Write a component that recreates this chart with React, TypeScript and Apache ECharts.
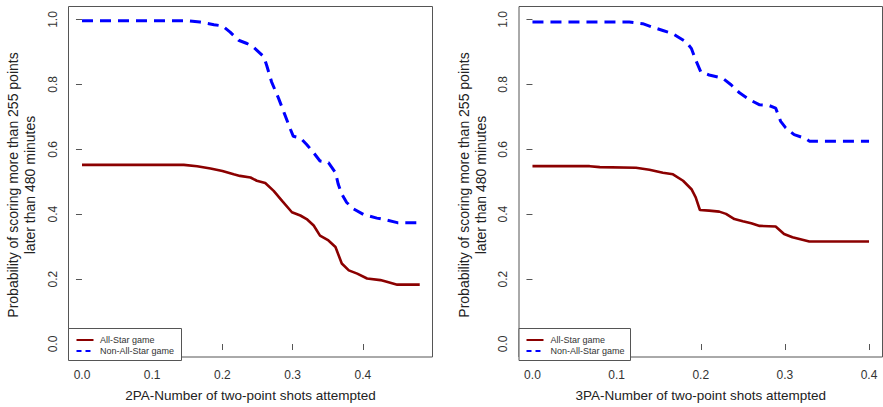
import React, { useEffect, useRef } from "react";
import * as echarts from "echarts";

// ---- Data ----
const seriesNames = ["All-Star game", "Non-All-Star game"];
const xTitles = [
  "2PA-Number of two-point shots attempted",
  "3PA-Number of two-point shots attempted",
];
const yTitle = "Probability of scoring more than 255 points\nlater than 480 minutes";
const xTicksLeft = [0, 0.1, 0.2, 0.3, 0.4];
const xTicksRight = [0, 0.1, 0.2, 0.3, 0.4];
const yTicks = [0, 0.2, 0.4, 0.6, 0.8, 1.0];

// Left panel (2PA) - All-Star game
const leftAllStarX = [0, 0.145, 0.164, 0.183, 0.2, 0.216, 0.225, 0.24, 0.249, 0.261, 0.273, 0.285, 0.299, 0.311, 0.32, 0.33, 0.339, 0.351, 0.361, 0.37, 0.38, 0.392, 0.406, 0.425, 0.434, 0.449, 0.481];
const leftAllStarY = [0.552, 0.552, 0.548, 0.541, 0.533, 0.523, 0.518, 0.513, 0.503, 0.496, 0.472, 0.441, 0.406, 0.396, 0.385, 0.365, 0.334, 0.319, 0.299, 0.248, 0.227, 0.217, 0.202, 0.197, 0.192, 0.183, 0.183];
// Left panel (2PA) - Non-All-Star game
const leftNonX = [0, 0.15, 0.168, 0.188, 0.2, 0.211, 0.223, 0.235, 0.244, 0.259, 0.263, 0.27, 0.28, 0.289, 0.297, 0.301, 0.311, 0.32, 0.33, 0.339, 0.351, 0.361, 0.365, 0.37, 0.377, 0.387, 0.401, 0.42, 0.432, 0.449, 0.482];
const leftNonY = [0.996, 0.996, 0.992, 0.984, 0.98, 0.961, 0.936, 0.926, 0.915, 0.885, 0.859, 0.808, 0.757, 0.706, 0.661, 0.64, 0.635, 0.615, 0.589, 0.564, 0.559, 0.528, 0.492, 0.462, 0.436, 0.416, 0.399, 0.388, 0.383, 0.374, 0.374];

// Right panel (3PA) - All-Star game
const rightAllStarX = [0, 0.068, 0.08, 0.123, 0.139, 0.155, 0.167, 0.179, 0.189, 0.194, 0.199, 0.21, 0.222, 0.23, 0.24, 0.25, 0.26, 0.27, 0.289, 0.299, 0.309, 0.329, 0.4];
const rightAllStarY = [0.548, 0.548, 0.545, 0.543, 0.537, 0.528, 0.523, 0.503, 0.477, 0.452, 0.413, 0.411, 0.408, 0.401, 0.385, 0.378, 0.372, 0.364, 0.362, 0.339, 0.329, 0.316, 0.316];
// Right panel (3PA) - Non-All-Star game
const rightNonX = [0, 0.115, 0.131, 0.143, 0.155, 0.167, 0.175, 0.183, 0.189, 0.194, 0.2, 0.21, 0.226, 0.236, 0.246, 0.258, 0.27, 0.281, 0.289, 0.295, 0.301, 0.311, 0.325, 0.329, 0.4];
const rightNonY = [0.992, 0.992, 0.987, 0.976, 0.966, 0.956, 0.943, 0.93, 0.91, 0.875, 0.839, 0.829, 0.819, 0.799, 0.774, 0.753, 0.737, 0.735, 0.727, 0.686, 0.666, 0.645, 0.633, 0.625, 0.625];

const zip = (xs: number[], ys: number[]) => xs.map((x, i) => [x, ys[i]]);

const RED = "#8B0000";
const BLUE = "#0000FF";
const FRAME = "#555555";
const FONT = "Liberation Sans, Arial, sans-serif";

export default function App() {
  const ref = useRef<HTMLDivElement>(null);

  useEffect(() => {
    if (!ref.current) return;
    const chart = echarts.init(ref.current, null, { renderer: "svg" });

    const grids = [
      { left: 68.5, top: 6.5, width: 364, height: 354 },
      { left: 519, top: 6.5, width: 363.5, height: 354 },
    ];

    const xAxisBase = (i: number, max: number, min: number, ticks: number[]) => ({
      type: "value",
      gridIndex: i,
      min,
      max,
      name: xTitles[i],
      nameLocation: "middle",
      nameGap: 31,
      nameTextStyle: { fontFamily: FONT, fontSize: 13.5, color: "#222" },
      axisLine: { show: false },
      axisTick: { show: true, length: 6, inside: false, customValues: ticks, lineStyle: { color: FRAME } },
      axisLabel: { customValues: ticks, margin: 12, fontFamily: FONT, fontSize: 12, color: "#333", formatter: (v: number) => v.toFixed(1) },
      splitLine: { show: false },
    });

    const yAxisBase = (i: number) => ({
      type: "value",
      gridIndex: i,
      min: -0.04,
      max: 1.04,
      axisLine: { show: false },
      axisTick: { show: true, length: 6, customValues: yTicks, lineStyle: { color: FRAME } },
      axisLabel: { customValues: yTicks, margin: 10, rotate: 90, fontFamily: FONT, fontSize: 12, color: "#333", formatter: (v: number) => v.toFixed(1) },
      splitLine: { show: false },
    });

    const legendGraphic = (boxLeft: number, boxRight: number, lineX0: number, textX: number) => [
      { type: "rect", shape: { x: boxLeft, y: 328.5, width: boxRight - boxLeft, height: 32 }, style: { fill: "#fff", stroke: FRAME, lineWidth: 1 }, z: 100 },
      { type: "line", shape: { x1: lineX0, y1: 340, x2: lineX0 + 17, y2: 340 }, style: { stroke: RED, lineWidth: 2 }, z: 101 },
      { type: "line", shape: { x1: lineX0, y1: 351, x2: lineX0 + 17, y2: 351 }, style: { stroke: BLUE, lineWidth: 2, lineDash: [5, 4] }, z: 101 },
      { type: "text", x: textX, y: 340, style: { text: seriesNames[0], fontFamily: FONT, fontSize: 9, fill: "#333", verticalAlign: "middle", align: "left" }, z: 101 },
      { type: "text", x: textX, y: 351, style: { text: seriesNames[1], fontFamily: FONT, fontSize: 9, fill: "#333", verticalAlign: "middle", align: "left" }, z: 101 },
    ];

    const yTitleGraphic = (cx: number) => ({
      type: "text",
      x: cx,
      y: 185,
      rotation: Math.PI / 2,
      style: { text: yTitle, fontFamily: FONT, fontSize: 14, lineHeight: 17, fill: "#222", align: "center", verticalAlign: "middle" },
    });

    const lineSeries = (name: string, idx: number, data: number[][], color: string, dashed: boolean) => ({
      type: "line",
      name,
      xAxisIndex: idx,
      yAxisIndex: idx,
      data,
      symbol: "none",
      smooth: false,
      lineStyle: dashed ? { color, width: 3, type: [11, 7] } : { color, width: 2.6 },
      itemStyle: { color },
      z: 5,
    });

    chart.setOption({
      animation: false,
      backgroundColor: "#fff",
      textStyle: { fontFamily: FONT },
      grid: grids.map((g) => ({ ...g, show: true, borderColor: FRAME, borderWidth: 1, backgroundColor: "transparent" })),
      xAxis: [xAxisBase(0, 0.4992, -0.0192, xTicksLeft), xAxisBase(1, 0.416, -0.016, xTicksRight)],
      yAxis: [yAxisBase(0), yAxisBase(1)],
      series: [
        lineSeries(seriesNames[0], 0, zip(leftAllStarX, leftAllStarY), RED, false),
        lineSeries(seriesNames[1], 0, zip(leftNonX, leftNonY), BLUE, true),
        lineSeries(seriesNames[0], 1, zip(rightAllStarX, rightAllStarY), RED, false),
        lineSeries(seriesNames[1], 1, zip(rightNonX, rightNonY), BLUE, true),
      ],
      graphic: [
        ...legendGraphic(68.5, 181.5, 76.5, 100),
        ...legendGraphic(519, 630.5, 526.5, 550.5),
        yTitleGraphic(21.5),
        yTitleGraphic(472),
      ],
    });

    return () => chart.dispose();
  }, []);

  return <div ref={ref} style={{ width: 883, height: 407, position: "absolute", left: 0, top: 0 }} />;
}
